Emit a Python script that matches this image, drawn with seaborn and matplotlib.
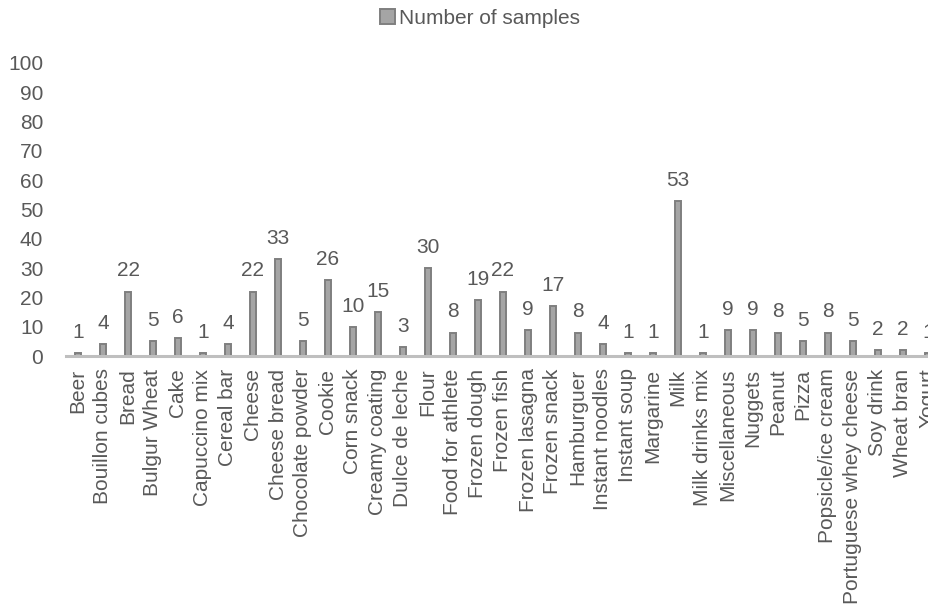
import matplotlib
matplotlib.use("Agg")
import matplotlib.pyplot as plt
import seaborn as sns
import pandas as pd

categories = [
    "Beer", "Bouillon cubes", "Bread", "Bulgur Wheat", "Cake", "Capuccino mix",
    "Cereal bar", "Cheese", "Cheese bread", "Chocolate powder", "Cookie",
    "Corn snack", "Creamy coating", "Dulce de leche", "Flour", "Food for athlete",
    "Frozen dough", "Frozen fish", "Frozen lasagna", "Frozen snack", "Hamburguer",
    "Instant noodles", "Instant soup", "Margarine", "Milk", "Milk drinks mix",
    "Miscellaneous", "Nuggets", "Peanut", "Pizza", "Popsicle/ice cream",
    "Portuguese whey cheese", "Soy drink", "Wheat bran", "Yogurt",
]
samples = [1, 4, 22, 5, 6, 1, 4, 22, 33, 5, 26, 10, 15, 3, 30, 8, 19, 22, 9, 17,
           8, 4, 1, 1, 53, 1, 9, 9, 8, 5, 8, 5, 2, 2, 1]
yticks = [0, 10, 20, 30, 40, 50, 60, 70, 80, 90, 100]
series_name = "Number of samples"

df = pd.DataFrame({"category": categories, "value": samples})

sns.set_style("white")
plt.rcParams["font.family"] = ["Liberation Sans", "DejaVu Sans"]

TEXT = "#595959"
FILL = "#a5a5a5"
EDGE = "#7f7f7f"
AXIS = "#bfbfbf"
FS = 15

W, H = 929, 607
fig = plt.figure(figsize=(W / 100, H / 100), dpi=100)
ax = fig.add_axes([65.5 / W, (H - 356) / H, 875 / W, 293 / H])

sns.barplot(data=df, x="category", y="value", ax=ax, width=0.26,
            color=FILL, saturation=1, edgecolor=EDGE, linewidth=1.4,
            label=series_name)

ax.set_xlim(-0.5, len(categories) - 0.5)
ax.set_ylim(0, 100)
ax.set_yticks(yticks)
ax.set_yticklabels([str(t) for t in yticks])
ax.set_xlabel("")
ax.set_ylabel("")

for side in ("top", "right", "left"):
    ax.spines[side].set_visible(False)
ax.spines["bottom"].set_color(AXIS)
ax.spines["bottom"].set_linewidth(2.2)

ax.tick_params(axis="y", length=0, pad=16, labelsize=FS, labelcolor=TEXT)
ax.tick_params(axis="x", length=0, pad=9, labelsize=FS, labelcolor=TEXT,
               rotation=90)
ax.grid(False)

ax.bar_label(ax.containers[0], labels=[str(v) for v in samples],
             padding=8, fontsize=FS, color=TEXT)

if ax.get_legend() is not None:
    ax.get_legend().remove()
handles, labels = ax.get_legend_handles_labels()
fig.legend(handles, labels, loc="center", bbox_to_anchor=(480 / W, 1 - 18 / H),
           frameon=False, fontsize=FS, labelcolor=TEXT, handlelength=0.7,
           handleheight=0.7, handletextpad=0.2)

fig.savefig("out.png", dpi=100)
